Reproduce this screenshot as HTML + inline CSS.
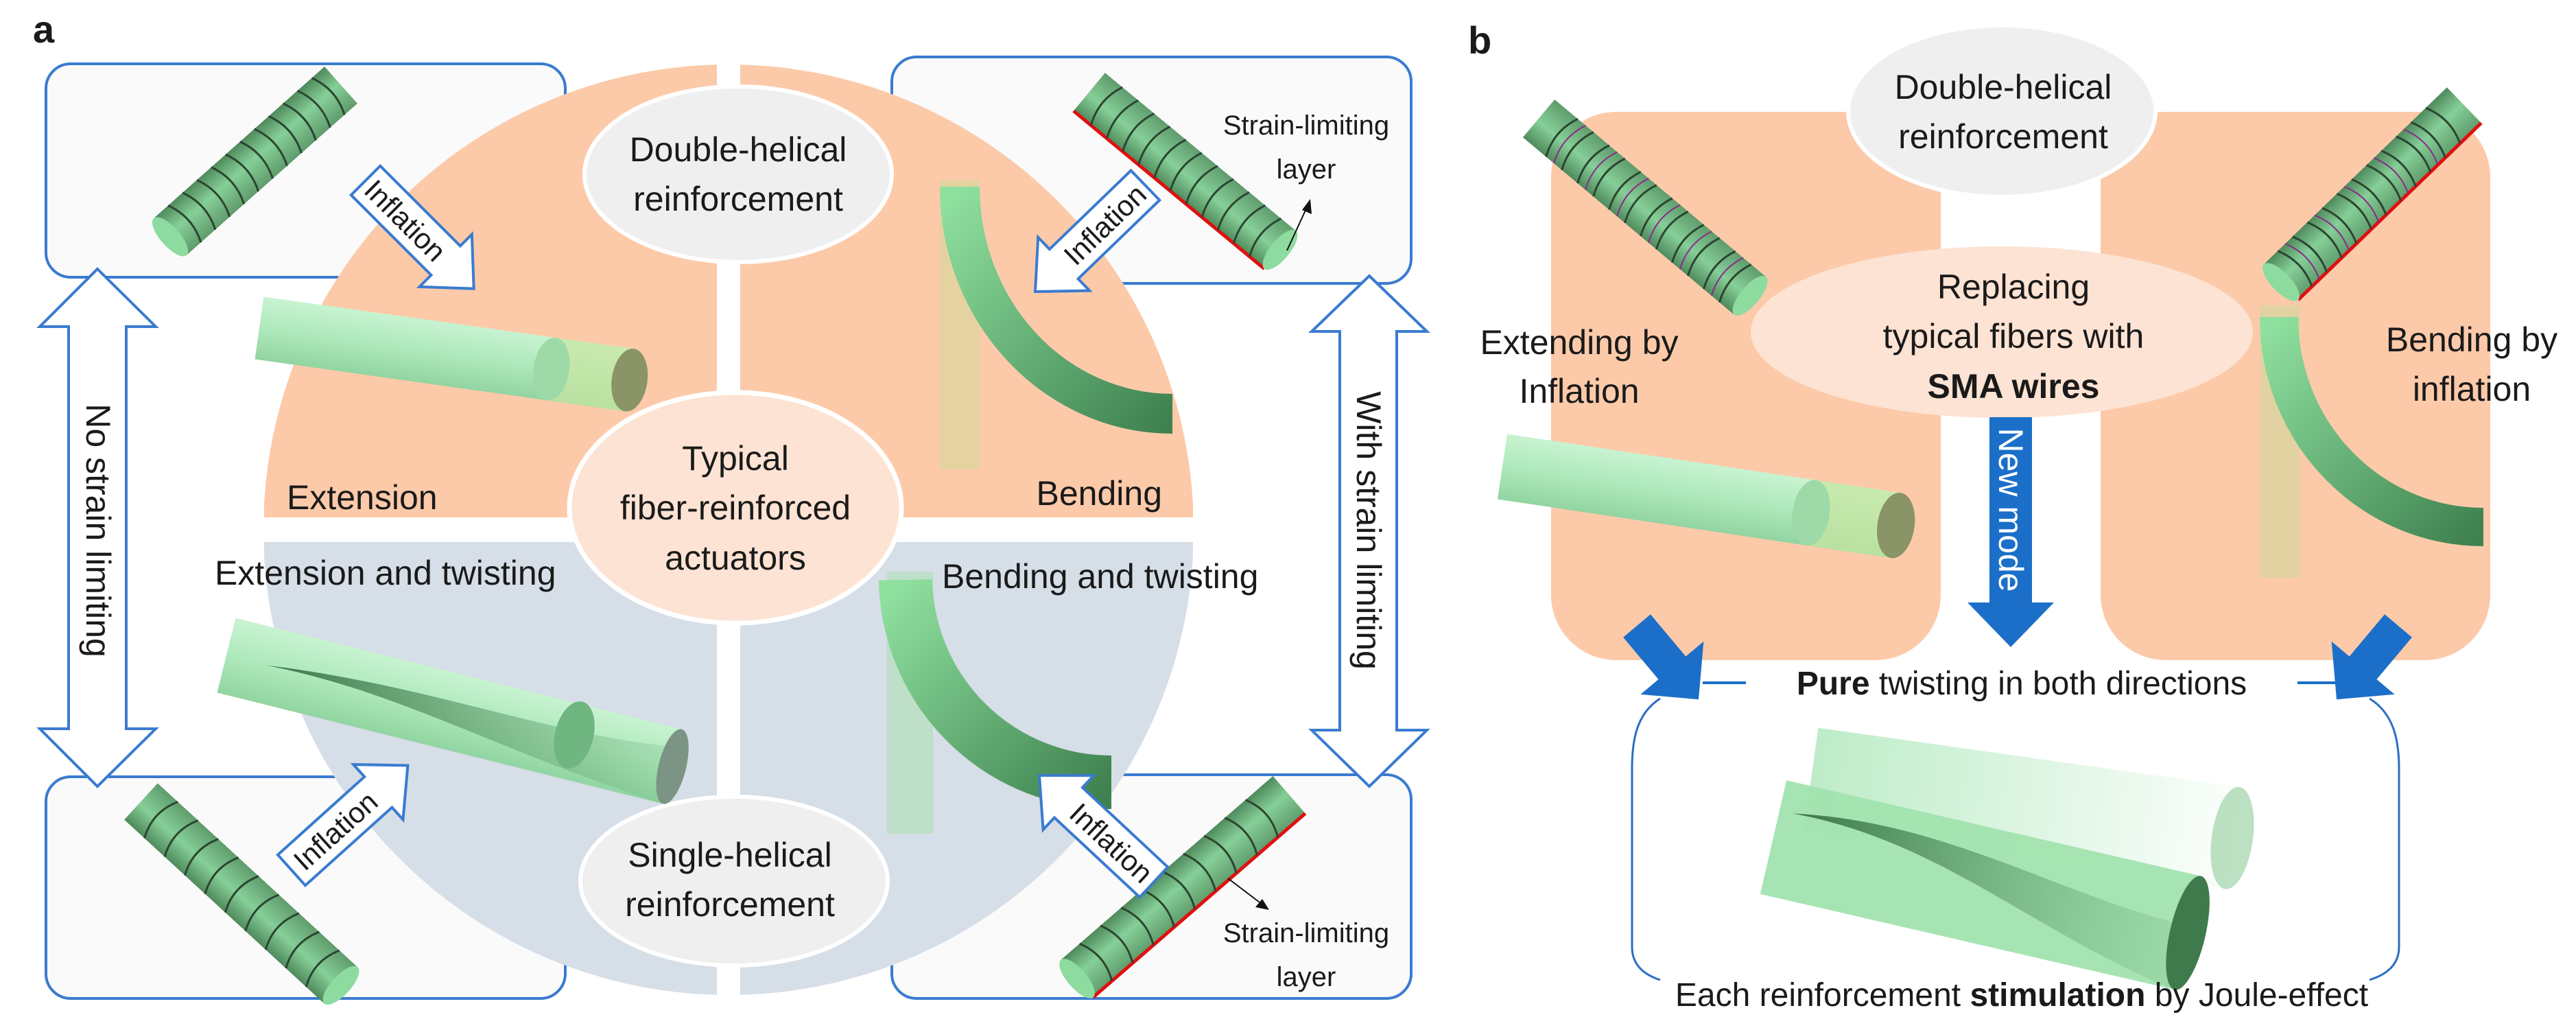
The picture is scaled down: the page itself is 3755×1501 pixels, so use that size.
<!DOCTYPE html>
<html><head><meta charset="utf-8"><style>
html,body{margin:0;padding:0;background:#fff}
svg{display:block}
text{font-family:"Liberation Sans",sans-serif;fill:#1a1a1a}
</style></head><body>
<svg width="3755" height="1501" viewBox="0 0 3755 1501" xmlns="http://www.w3.org/2000/svg">
<defs>
<clipPath id="circ"><circle cx="1062" cy="772" r="678"/></clipPath>
<linearGradient id="rib" x1="0" y1="0" x2="0" y2="1">
<stop offset="0" stop-color="#4f8a5c"/><stop offset="0.45" stop-color="#86cf98"/><stop offset="1" stop-color="#5f9c6c"/></linearGradient>
<linearGradient id="cyl" x1="0" y1="0" x2="0" y2="1">
<stop offset="0" stop-color="#c8f3d1"/><stop offset="0.5" stop-color="#aee9bb"/><stop offset="1" stop-color="#92d4a2"/></linearGradient>
<linearGradient id="bend" x1="0" y1="0" x2="1" y2="1">
<stop offset="0" stop-color="#8fe09f"/><stop offset="1" stop-color="#3f8250"/></linearGradient>
<linearGradient id="twist" x1="0" y1="0" x2="1" y2="0">
<stop offset="0" stop-color="#2f6a3c" stop-opacity="0.9"/><stop offset="1" stop-color="#6fb07e" stop-opacity="0.2"/></linearGradient>
<linearGradient id="fade" x1="0" y1="0" x2="1" y2="0">
<stop offset="0" stop-color="#a8e6b5" stop-opacity="0.75"/><stop offset="1" stop-color="#a8e6b5" stop-opacity="0.05"/></linearGradient>
</defs>

<!-- panel a boxes -->
<g fill="#fafafa" stroke="#3a7bd0" stroke-width="4">
<rect x="67" y="93" width="757" height="311" rx="36"/>
<rect x="67" y="1132" width="757" height="323" rx="36"/>
<rect x="1300" y="83" width="757" height="330" rx="36"/>
<rect x="1300" y="1129" width="757" height="326" rx="36"/>
</g>

<!-- circle quadrants -->
<g clip-path="url(#circ)">
<rect x="385" y="93" width="660" height="661" fill="#fccaa9"/>
<rect x="1079" y="93" width="660" height="661" fill="#fccaa9"/>
<rect x="385" y="790" width="660" height="660" fill="#d6dee7"/>
<rect x="1079" y="790" width="660" height="660" fill="#d6dee7"/>
</g>

<!-- ellipses a -->
<ellipse cx="1076" cy="254" rx="224" ry="128" fill="#efefef" stroke="#fff" stroke-width="6"/>
<ellipse cx="1070" cy="1284" rx="224" ry="123" fill="#efefef" stroke="#fff" stroke-width="6"/>

<!-- left/right double arrows -->
<polygon points="142,392 227,476 184,476 184,1062 227,1062 142,1146 58,1062 100,1062 100,476 58,476" fill="#fff" stroke="#3a7bd0" stroke-width="4"/>
<polygon points="1996,402 2080,483 2036,483 2036,1064 2080,1064 1996,1146 1912,1064 1953,1064 1953,483 1912,483" fill="#fff" stroke="#3a7bd0" stroke-width="4"/>
<text transform="translate(126,773) rotate(90)" font-size="50" text-anchor="middle">No strain limiting</text>
<text transform="translate(1978,773) rotate(90)" font-size="50" text-anchor="middle">With strain limiting</text>

<!-- ribbed actuators -->
<g transform="translate(248,345) rotate(-41.6)">
<rect x="0" y="-36" width="333" height="72" fill="url(#rib)"/>
<g stroke="#2c4532" stroke-width="3" fill="none">
<path d="M28,-36 q16,36 0,72 M56,-36 q16,36 0,72 M84,-36 q16,36 0,72 M112,-36 q16,36 0,72 M140,-36 q16,36 0,72 M168,-36 q16,36 0,72 M196,-36 q16,36 0,72 M224,-36 q16,36 0,72 M252,-36 q16,36 0,72 M280,-36 q16,36 0,72 M308,-36 q16,36 0,72"/></g>
<ellipse cx="0" cy="0" rx="14" ry="36" fill="#8edba0"/></g>

<g transform="translate(1866,364) rotate(-140.4)">
<rect x="0" y="-36" width="361" height="72" fill="url(#rib)"/>
<line x1="0" y1="-36" x2="361" y2="-36" stroke="#e01010" stroke-width="5"/>
<g stroke="#2c4532" stroke-width="3" fill="none">
<path d="M28,-36 q16,36 0,72 M58,-36 q16,36 0,72 M88,-36 q16,36 0,72 M118,-36 q16,36 0,72 M148,-36 q16,36 0,72 M178,-36 q16,36 0,72 M208,-36 q16,36 0,72 M238,-36 q16,36 0,72 M268,-36 q16,36 0,72 M298,-36 q16,36 0,72 M328,-36 q16,36 0,72"/></g>
<ellipse cx="0" cy="0" rx="14" ry="36" fill="#8edba0"/></g>

<g transform="translate(497,1436) rotate(-137.4)">
<rect x="0" y="-36" width="396" height="72" fill="url(#rib)"/>
<g stroke="#2c4532" stroke-width="3" fill="none">
<path d="M36,-36 q18,36 0,72 M76,-36 q18,36 0,72 M116,-36 q18,36 0,72 M156,-36 q18,36 0,72 M196,-36 q18,36 0,72 M236,-36 q18,36 0,72 M276,-36 q18,36 0,72 M316,-36 q18,36 0,72 M356,-36 q18,36 0,72"/></g>
<ellipse cx="0" cy="0" rx="14" ry="36" fill="#8edba0"/></g>

<g transform="translate(1570,1426) rotate(-40.9)">
<rect x="0" y="-36" width="409" height="72" fill="url(#rib)"/>
<line x1="0" y1="36" x2="409" y2="36" stroke="#e01010" stroke-width="5"/>
<g stroke="#2c4532" stroke-width="3" fill="none">
<path d="M36,-36 q18,36 0,72 M76,-36 q18,36 0,72 M116,-36 q18,36 0,72 M156,-36 q18,36 0,72 M196,-36 q18,36 0,72 M236,-36 q18,36 0,72 M276,-36 q18,36 0,72 M316,-36 q18,36 0,72 M356,-36 q18,36 0,72"/></g>
<ellipse cx="0" cy="0" rx="14" ry="36" fill="#8edba0"/></g>

<!-- strain limiting labels -->
<text x="1904" y="196" font-size="40" text-anchor="middle">Strain-limiting</text>
<text x="1904" y="260" font-size="40" text-anchor="middle">layer</text>
<line x1="1876" y1="365" x2="1906" y2="300" stroke="#111" stroke-width="2"/>
<polygon points="1910,290 1912,312 1898,306" fill="#111"/>
<text x="1904" y="1373" font-size="40" text-anchor="middle">Strain-limiting</text>
<text x="1904" y="1437" font-size="40" text-anchor="middle">layer</text>
<line x1="1790" y1="1280" x2="1840" y2="1318" stroke="#111" stroke-width="2"/>
<polygon points="1850,1326 1830,1322 1840,1310" fill="#111"/>

<!-- extension cylinder -->
<g transform="translate(378,478) rotate(8)">
<rect x="0" y="-46" width="545" height="92" fill="url(#cyl)"/>
<rect x="430" y="-46" width="115" height="92" fill="#c9e6a0" opacity="0.7"/>
<ellipse cx="430" cy="0" rx="26" ry="46" fill="#9ed9a8"/>
<ellipse cx="545" cy="0" rx="26" ry="46" fill="#8a9466"/></g>

<!-- bending TR -->
<rect x="1370" y="262" width="58" height="422" fill="#e0d3a0" opacity="0.85"/>
<path d="M1399,272 A310 331 0 0 0 1709,603" fill="none" stroke="url(#bend)" stroke-width="58"/>

<!-- twisted BL -->
<g transform="translate(330,955) rotate(14)">
<rect x="0" y="-56" width="670" height="112" fill="url(#cyl)"/>
<path d="M60,0 C260,-10 420,40 670,56 L670,-30 C500,0 300,-30 60,0Z" fill="url(#twist)"/>
<ellipse cx="520" cy="-10" rx="28" ry="50" fill="#6fb680"/>
<ellipse cx="670" cy="0" rx="20" ry="56" fill="#7c9484"/></g>

<!-- bend twist BR -->
<rect x="1293" y="833" width="67" height="382" fill="#b8dfc0" opacity="0.8"/>
<path d="M1320,845 A300 300 0 0 0 1620,1140" fill="none" stroke="url(#bend)" stroke-width="78"/>

<!-- inflation arrows -->
<g transform="translate(533,263) rotate(45)">
<polygon points="0,-30 165,-30 165,-54 223,0 165,54 165,30 0,30" fill="#fff" stroke="#3a7bd0" stroke-width="4"/>
<text x="82" y="15" font-size="42" text-anchor="middle">Inflation</text></g>
<g transform="translate(1509,425) rotate(-44)">
<polygon points="0,0 58,-54 58,-30 223,-30 223,30 58,30 58,54" fill="#fff" stroke="#3a7bd0" stroke-width="4"/>
<text x="141" y="15" font-size="42" text-anchor="middle">Inflation</text></g>
<g transform="translate(425,1268) rotate(-42)">
<polygon points="0,-30 170,-30 170,-54 228,0 170,54 170,30 0,30" fill="#fff" stroke="#3a7bd0" stroke-width="4"/>
<text x="86" y="15" font-size="42" text-anchor="middle">Inflation</text></g>
<g transform="translate(1515,1130) rotate(43)">
<polygon points="0,0 58,-54 58,-30 228,-30 228,30 58,30 58,54" fill="#fff" stroke="#3a7bd0" stroke-width="4"/>
<text x="144" y="15" font-size="42" text-anchor="middle">Inflation</text></g>

<!-- center ellipse -->
<ellipse cx="1072" cy="740" rx="242" ry="168" fill="#fde3d3" stroke="#fff" stroke-width="7"/>

<!-- panel a text -->
<text x="48" y="62" font-size="56" font-weight="bold">a</text>
<text x="1076" y="235" font-size="50" text-anchor="middle">Double-helical</text>
<text x="1076" y="307" font-size="50" text-anchor="middle">reinforcement</text>
<text x="1072" y="685" font-size="50" text-anchor="middle">Typical</text>
<text x="1072" y="757" font-size="50" text-anchor="middle">fiber-reinforced</text>
<text x="1072" y="830" font-size="50" text-anchor="middle">actuators</text>
<text x="1064" y="1263" font-size="50" text-anchor="middle">Single-helical</text>
<text x="1064" y="1335" font-size="50" text-anchor="middle">reinforcement</text>
<text x="418" y="742" font-size="50">Extension</text>
<text x="1694" y="736" font-size="50" text-anchor="end">Bending</text>
<text x="313" y="852" font-size="50">Extension and twisting</text>
<text x="1373" y="857" font-size="50">Bending and twisting</text>

<!-- panel b -->
<text x="2140" y="78" font-size="56" font-weight="bold">b</text>
<rect x="2261" y="163" width="568" height="799" rx="95" fill="#fccaa9"/>
<rect x="3062" y="163" width="568" height="799" rx="95" fill="#fccaa9"/>
<ellipse cx="2918" cy="162" rx="224" ry="125" fill="#efefef" stroke="#fff" stroke-width="6"/>
<ellipse cx="2918" cy="484" rx="366" ry="125" fill="#fde3d3"/>

<g transform="translate(2551,431) rotate(-140)">
<rect x="0" y="-36" width="402" height="72" fill="url(#rib)"/>
<g stroke="#2c4532" stroke-width="3" fill="none">
<path d="M28,-36 q16,36 0,72 M58,-36 q16,36 0,72 M88,-36 q16,36 0,72 M118,-36 q16,36 0,72 M148,-36 q16,36 0,72 M178,-36 q16,36 0,72 M208,-36 q16,36 0,72 M238,-36 q16,36 0,72 M268,-36 q16,36 0,72 M298,-36 q16,36 0,72 M328,-36 q16,36 0,72 M358,-36 q16,36 0,72"/></g>
<g stroke="#8a2a8a" stroke-width="2" fill="none">
<path d="M43,-36 q16,36 0,72 M103,-36 q16,36 0,72 M163,-36 q16,36 0,72 M223,-36 q16,36 0,72 M283,-36 q16,36 0,72 M343,-36 q16,36 0,72"/></g>
<ellipse cx="0" cy="0" rx="14" ry="36" fill="#8edba0"/></g>
<g transform="translate(3325,411) rotate(-44)">
<rect x="0" y="-36" width="371" height="72" fill="url(#rib)"/>
<line x1="0" y1="36" x2="371" y2="36" stroke="#e01010" stroke-width="5"/>
<g stroke="#2c4532" stroke-width="3" fill="none">
<path d="M28,-36 q16,36 0,72 M58,-36 q16,36 0,72 M88,-36 q16,36 0,72 M118,-36 q16,36 0,72 M148,-36 q16,36 0,72 M178,-36 q16,36 0,72 M208,-36 q16,36 0,72 M238,-36 q16,36 0,72 M268,-36 q16,36 0,72 M298,-36 q16,36 0,72 M328,-36 q16,36 0,72"/></g>
<g stroke="#8a2a8a" stroke-width="2" fill="none">
<path d="M43,-36 q16,36 0,72 M103,-36 q16,36 0,72 M163,-36 q16,36 0,72 M223,-36 q16,36 0,72 M283,-36 q16,36 0,72"/></g>
<ellipse cx="0" cy="0" rx="14" ry="36" fill="#8edba0"/></g>

<g transform="translate(2190,680) rotate(8.5)">
<rect x="0" y="-48" width="580" height="96" fill="url(#cyl)"/>
<rect x="455" y="-48" width="125" height="96" fill="#c9e6a0" opacity="0.7"/>
<ellipse cx="455" cy="0" rx="27" ry="48" fill="#9ed9a8"/>
<ellipse cx="580" cy="0" rx="27" ry="48" fill="#8a9466"/></g>

<rect x="3294" y="445" width="59" height="397" fill="#e0d3a0" opacity="0.9"/>
<path d="M3322,462 A298 306 0 0 0 3620,768" fill="none" stroke="url(#bend)" stroke-width="56"/>

<!-- new mode arrow -->
<polygon points="2900,608 2962,608 2962,878 2994,878 2931,943 2868,878 2900,878" fill="#1b6fc9"/>
<text transform="translate(2914,743) rotate(90)" font-size="50" text-anchor="middle" style="fill:#fff">New mode</text>

<!-- diagonal thick arrows -->
<g transform="translate(2386,912) rotate(50)">
<polygon points="0,-26 80,-26 80,-60 140,0 80,60 80,26 0,26" fill="#1b6fc9"/></g>
<g transform="translate(3496,912) rotate(130)">
<polygon points="0,-26 80,-26 80,-60 140,0 80,60 80,26 0,26" fill="#1b6fc9"/></g>
<line x1="2482" y1="995" x2="2545" y2="995" stroke="#1b6fc9" stroke-width="4"/>
<line x1="3349" y1="995" x2="3406" y2="995" stroke="#1b6fc9" stroke-width="4"/>

<!-- brackets -->
<path d="M2420,1018 C2385,1040 2379,1080 2379,1120 L2379,1380 C2379,1405 2395,1420 2420,1428" fill="none" stroke="#2b6fc4" stroke-width="3"/>
<path d="M3454,1018 C3490,1040 3497,1080 3497,1120 L3497,1380 C3497,1405 3480,1420 3454,1428" fill="none" stroke="#2b6fc4" stroke-width="3"/>

<!-- twisting cylinders -->
<g transform="translate(2640,1135) rotate(8)">
<rect x="0" y="-75" width="620" height="150" fill="url(#fade)"/>
<ellipse cx="620" cy="0" rx="30" ry="75" fill="#9fd3a8" opacity="0.7"/></g>
<g transform="translate(2585,1220) rotate(13)">
<rect x="0" y="-85" width="620" height="170" fill="#a2e3af" opacity="0.95"/>
<path d="M20,-40 C240,-50 400,50 620,85 L620,-10 C430,-10 240,-80 20,-40Z" fill="url(#twist)"/>
<ellipse cx="620" cy="0" rx="26" ry="85" fill="#3f7a4c"/></g>

<!-- panel b text -->
<text x="2920" y="144" font-size="50" text-anchor="middle">Double-helical</text>
<text x="2920" y="216" font-size="50" text-anchor="middle">reinforcement</text>
<text x="2935" y="435" font-size="50" text-anchor="middle">Replacing</text>
<text x="2935" y="507" font-size="50" text-anchor="middle">typical fibers with</text>
<text x="2935" y="580" font-size="50" text-anchor="middle" font-weight="bold">SMA wires</text>
<text x="2302" y="516" font-size="50" text-anchor="middle">Extending by</text>
<text x="2302" y="587" font-size="50" text-anchor="middle">Inflation</text>
<text x="3603" y="512" font-size="50" text-anchor="middle">Bending by</text>
<text x="3603" y="584" font-size="50" text-anchor="middle">inflation</text>
<text x="2947" y="1012" font-size="48" text-anchor="middle"><tspan font-weight="bold">Pure</tspan> twisting in both directions</text>
<text x="2947" y="1466" font-size="48" text-anchor="middle">Each reinforcement <tspan font-weight="bold">stimulation</tspan> by Joule-effect</text>
</svg>
</body></html>
